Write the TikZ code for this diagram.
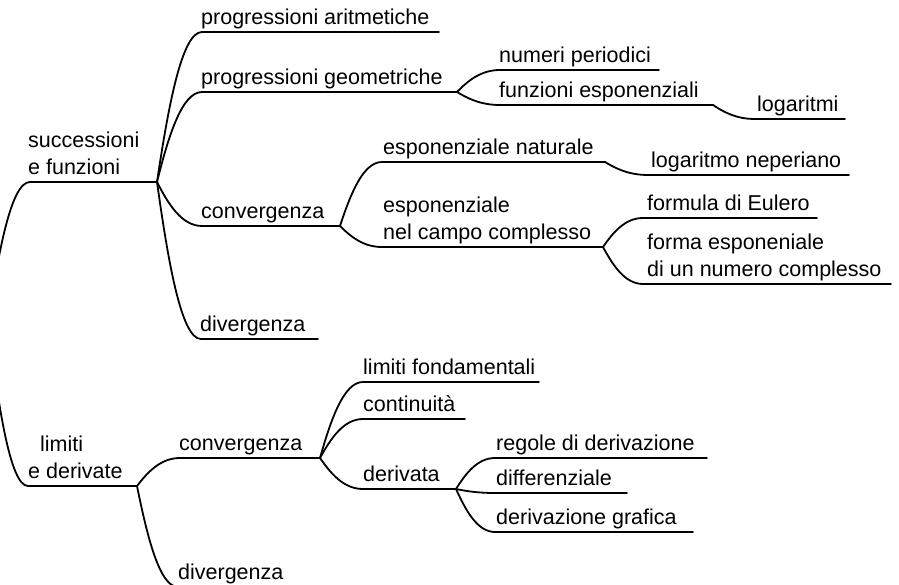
\documentclass[tikz,border=0pt]{standalone}
\usepackage{fontspec}
\setmainfont{Liberation Sans}
\usetikzlibrary{calc}
\tikzset{
  ln/.style={line width=1.8pt, line cap=round},
  lbl/.style={inner sep=0pt, anchor=base west, align=left, font=\fontsize{21.5}{27}\selectfont},
}
\newcommand\itm[6]{% name, xl, xr, y, textx, text
  \coordinate (#1-l) at (#2,#4);
  \coordinate (#1-r) at (#3,#4);
  \draw[ln] (#1-l) -- (#1-r);
  \node[lbl] (#1) at (#5,#4-7.5) {#6};
}
\newcommand\conn[2]{%
  \draw[ln] let \p1=(#1), \p2=(#2) in
    (\p1) .. controls ({\x1+0.25*(\x2-\x1)},{\y1+0.5*(\y2-\y1)}) and ({\x1+0.55*(\x2-\x1)},\y2) .. (\p2);
}
\begin{document}
\begin{tikzpicture}[x=1pt,y=-1pt]
\useasboundingbox (0,0) rectangle (899,585);
\clip (0,0) rectangle (899,585);
\coordinate (root) at (-12,322);
\itm{sf}{30}{157}{182}{28}{successioni\\e funzioni}
\itm{pa}{202}{439}{32}{201}{progressioni aritmetiche}
\itm{pg}{202}{457}{92}{201}{progressioni geometriche}
\itm{np}{500}{659}{70}{499}{numeri periodici}
\itm{fe}{500}{713}{105}{499}{funzioni esponenziali}
\itm{lg}{755}{845}{119}{757}{logaritmi}
\itm{cv}{202}{340}{226}{201}{convergenza}
\itm{en}{382}{605}{162}{383}{esponenziale naturale}
\itm{lnp}{648}{849}{175}{651}{logaritmo neperiano}
\itm{ec}{382}{603}{247}{383}{esponenziale\\nel campo complesso}
\itm{eu}{643}{817}{218}{647}{formula di Eulero}
\itm{fx}{643}{891}{284}{647}{forma esponeniale\\di un numero complesso}
\itm{dv}{201}{318}{339}{200}{divergenza}
\itm{ld}{28}{137}{486}{28}{\hspace{12pt}limiti\\e derivate}
\itm{cw}{180}{320}{458}{179}{convergenza}
\itm{dw}{178}{296}{587}{178}{divergenza}
\itm{lf}{363}{539}{382}{363}{limiti fondamentali}
\itm{ct}{363}{465}{419}{363}{continuità}
\itm{de}{363}{456}{489}{363}{derivata}
\itm{rd}{495}{707}{458}{496}{regole di derivazione}
\itm{df}{495}{627}{493}{496}{differenziale}
\itm{dg}{495}{693}{532}{496}{derivazione grafica}
\conn{root}{sf-l}
\conn{root}{ld-l}
\conn{sf-r}{pa-l}
\conn{sf-r}{pg-l}
\conn{sf-r}{cv-l}
\conn{sf-r}{dv-l}
\conn{pg-r}{np-l}
\conn{pg-r}{fe-l}
\conn{fe-r}{lg-l}
\conn{cv-r}{en-l}
\conn{cv-r}{ec-l}
\conn{en-r}{lnp-l}
\conn{ec-r}{eu-l}
\conn{ec-r}{fx-l}
\conn{ld-r}{cw-l}
\conn{ld-r}{dw-l}
\conn{cw-r}{lf-l}
\conn{cw-r}{ct-l}
\conn{cw-r}{de-l}
\conn{de-r}{rd-l}
\conn{de-r}{df-l}
\conn{de-r}{dg-l}
\end{tikzpicture}
\end{document}
